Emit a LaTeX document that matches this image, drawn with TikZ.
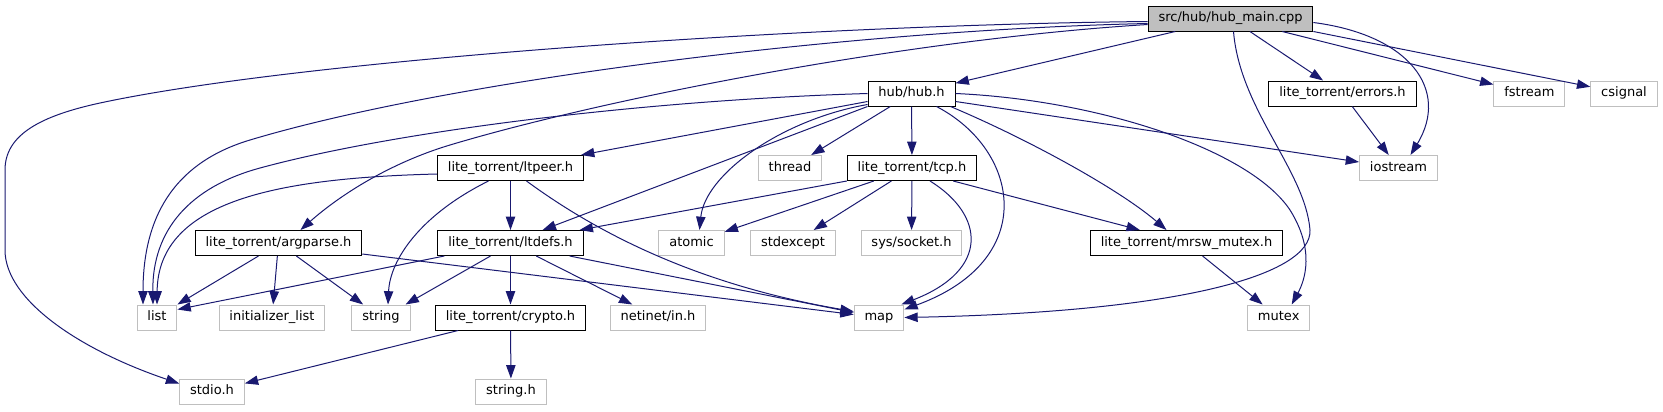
\documentclass[tikz,border=0pt]{standalone}
\usepackage{fontspec}
\setmainfont{DejaVu Sans}
\usetikzlibrary{arrows.meta,calc}
\definecolor{edgeblue}{HTML}{191970}
\definecolor{boxgrey}{HTML}{BFBFBF}
\tikzset {
  header/.style = {
    draw=black,
    line width=0.75pt,
    inner xsep=7.8pt,
    inner ysep=0pt,
    minimum height=18.75pt,
    text height=7.1pt,
    text depth=2.3pt,
    font=\fontsize{9.75}{11}\selectfont
  },
  sysheader/.style = {header, draw=boxgrey},
  rootfile/.style = {header, fill=boxgrey},
  dep/.style = {
    -{Triangle[length=10pt,width=7pt]},
    draw=edgeblue,
    line width=0.75pt
  }
}

\begin{document}
\begin{tikzpicture}[x=0.75pt, y=-0.75pt]
\useasboundingbox (0,0) rectangle (1663,411);

% --- Files ---
\node[rootfile]  (main)      at (1230.5, 18.5) {src/hub/hub\_main.cpp};
\node[header]    (hubh)      at ( 911.5, 93.5) {hub/hub.h};
\node[header]    (errors)    at (1342.5, 93.5) {lite\_torrent/errors.h};
\node[sysheader] (fstream)   at (1529.4, 93.5) {fstream};
\node[sysheader] (csignal)   at (1624  , 93.5) {csignal};
\node[header]    (ltpeer)    at ( 510.5,168  ) {lite\_torrent/ltpeer.h};
\node[sysheader] (thread)    at ( 790  ,168  ) {thread};
\node[header]    (tcp)       at ( 912  ,168  ) {lite\_torrent/tcp.h};
\node[sysheader] (iostream)  at (1398.5,168  ) {iostream};
\node[header]    (argparse)  at ( 278.5,243  ) {lite\_torrent/argparse.h};
\node[header]    (ltdefs)    at ( 510.5,243  ) {lite\_torrent/ltdefs.h};
\node[sysheader] (atomic)    at ( 691.5,243  ) {atomic};
\node[sysheader] (stdexcept) at ( 793  ,243  ) {stdexcept};
\node[sysheader] (socket)    at ( 911.5,243  ) {sys/socket.h};
\node[header]    (mrsw)      at (1186.5,243  ) {lite\_torrent/mrsw\_mutex.h};
\node[sysheader] (list)      at ( 157  ,317.5) {list};
\node[sysheader] (initlist)  at ( 272  ,317.5) {initializer\_list};
\node[sysheader] (string)    at ( 381  ,317.5) {string};
\node[header]    (crypto)    at ( 510.5,317.5) {lite\_torrent/crypto.h};
\node[sysheader] (netinet)   at ( 658  ,317.5) {netinet/in.h};
\node[sysheader] (map)       at ( 879  ,317.5) {map};
\node[sysheader] (mutex)     at (1278.7,317.5) {mutex};
\node[sysheader] (stdio)     at ( 212  ,391.5) {stdio.h};
\node[sysheader] (stringh)   at ( 511  ,391.5) {string.h};

% --- src/hub/hub_main.cpp ---
\draw[dep] (main) -- (hubh);
\draw[dep] ($(main.west)+(0,3)$) .. controls (800,25) and (300,60) .. (100,103)
  .. controls (40,116) and (5,135) .. (5,170) -- (5,250)
  .. controls (5,300) and (80,350) .. ($(stdio.west)+(0,-8)$);
\draw[dep] ($(main.west)+(0,5)$) .. controls (850,30) and (450,80) .. (250,140)
  .. controls (180,161) and (143,210) .. ($(list.north)+(-14,0)$);
\draw[dep] ($(main.west)+(0,6)$) .. controls (900,40) and (600,100) .. (450,145)
  .. controls (390,163) and (340,195) .. ($(argparse.north)+(22,0)$);
\draw[dep] ($(main.south)+(3,0)$) .. controls (1240,110) and (1305,170) .. (1310,230)
  .. controls (1312,275) and (1180,312) .. (map.east);
\draw[dep] (main) -- (errors);
\draw[dep] (main) -- (fstream);
\draw[dep] (main.south east) -- (csignal);
\draw[dep] ($(main.east)+(0,4)$) .. controls (1410,35) and (1450,90) .. ($(iostream.north)+(12,0)$);

% --- hub/hub.h ---
\draw[dep] (hubh.west) .. controls (650,100) and (400,130) .. (260,168)
  .. controls (190,187) and (152,230) .. ($(list.north)+(-4,0)$);
\draw[dep] ($(hubh.west)+(0,8)$) -- ($(ltpeer.north east)+(-3,0)$);
\draw[dep] (hubh.south west) -- ($(ltdefs.north east)+(-41,0)$);
\draw[dep] ($(hubh.south west)+(0,-2)$) .. controls (780,120) and (705,175) .. ($(atomic.north)+(8,0)$);
\draw[dep] (hubh) -- (thread);
\draw[dep] (hubh) -- (tcp);
\draw[dep] ($(hubh.south)+(25,0)$) .. controls (1020,150) and (1040,260) .. ($(map.north east)+(0,5)$);
\draw[dep] ($(hubh.south east)+(-5,0)$) .. controls (1030,140) and (1120,190) .. ($(mrsw.north)+(-20,0)$);
\draw[dep] (hubh.east) .. controls (1100,100) and (1250,150) .. (1290,210)
  .. controls (1315,250) and (1305,280) .. ($(mutex.north)+(13,0)$);
\draw[dep] ($(hubh.east)+(0,8)$) -- ($(iostream.west)+(0,-6)$);

% --- lite_torrent/ltpeer.h ---
\draw[dep] ($(ltpeer.west)+(0,6)$) .. controls (280,178) and (158,200) .. (list.north);
\draw[dep] ($(ltpeer.south)+(-22,0)$) .. controls (420,215) and (390,260) .. ($(string.north)+(7,0)$);
\draw[dep] (ltpeer) -- (ltdefs);
\draw[dep] ($(ltpeer.south)+(16,0)$) .. controls (600,235) and (700,285) .. ($(map.west)+(0,-6)$);

% --- lite_torrent/argparse.h ---
\draw[dep] ($(argparse.south)+(-20,0)$) -- (list.north east);
\draw[dep] (argparse) -- (initlist);
\draw[dep] (argparse) -- (string);
\draw[dep] ($(argparse.east)+(0,11)$) -- ($(map.west)+(0,-3)$);

% --- lite_torrent/ltdefs.h ---
\draw[dep] ($(ltdefs.south west)+(7,0)$) -- ($(list.east)+(0,-8)$);
\draw[dep] ($(ltdefs.south)+(-20,0)$) -- ($(string.north east)+(-5,0)$);
\draw[dep] (ltdefs) -- (crypto);
\draw[dep] (ltdefs) -- (netinet);
\draw[dep] ($(ltdefs.south east)+(-14,0)$) -- ($(map.west)+(0,-5)$);

% --- lite_torrent/tcp.h ---
\draw[dep] (tcp.south west) -- ($(ltdefs.north east)+(-4,0)$);
\draw[dep] (tcp) -- (atomic);
\draw[dep] (tcp) -- (stdexcept);
\draw[dep] (tcp) -- (socket);
\draw[dep] ($(tcp.south)+(18,0)$) .. controls (985,215) and (990,270) .. ($(map.north east)+(-3,0)$);
\draw[dep] ($(tcp.south east)+(-24,0)$) -- ($(mrsw.north west)+(50,0)$);

% --- the rest ---
\draw[dep] (crypto) -- (stdio);
\draw[dep] (crypto) -- (stringh);
\draw[dep] (errors) -- (iostream);
\draw[dep] (mrsw) -- (mutex);

\end{tikzpicture}
\end{document}
